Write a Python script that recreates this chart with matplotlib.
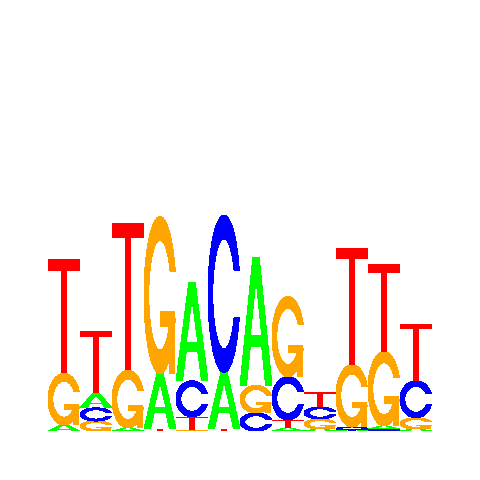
import matplotlib
matplotlib.use("Agg")
import numpy as np
import matplotlib.pyplot as plt
from matplotlib.patches import Polygon

# information content per letter (bits), positions 1..12
a_bits = [0.05, 0.12, 0.025, 0.46, 0.82, 0.47, 1.07, 0.025, 0.017, 0.008, 0.025, 0.017]
c_bits = [0.0, 0.11, 0.0, 0.0, 0.30, 1.31, 0.15, 0.36, 0.10, 0.025, 0.017, 0.31]
g_bits = [0.43, 0.083, 0.48, 1.31, 0.008, 0.0, 0.23, 0.67, 0.083, 0.52, 0.62, 0.092]
t_bits = [0.95, 0.52, 1.23, 0.017, 0.11, 0.017, 0.0, 0.067, 0.125, 0.975, 0.73, 0.475]

letters = ["A", "C", "G", "T"]
colors = {"A": "#00ff00", "C": "#0000ff", "G": "#ffa500", "T": "#ff0000"}

px_per_bit = 120.0
col_w = 32.0
x0 = 48.0
base = 49.0


def c_shape():
    # ring-shaped C outline in a unit box (same recipe as seqLogo)
    a1 = np.linspace(0.3 + np.pi / 2, np.pi, 100)
    a2 = np.linspace(np.pi, 1.5 * np.pi, 100)
    xl = np.concatenate([0.5 + 0.5 * np.sin(a1), 0.5 + 0.5 * np.sin(a2)])
    yl = np.concatenate([0.5 + 0.5 * np.cos(a1), 0.5 + 0.5 * np.cos(a2)])
    x = np.concatenate([xl, xl[::-1]])
    y = np.concatenate([yl, 1 - yl[::-1]])
    hmax = (0.5 + 0.5 * np.cos(a1)).max()
    xi1 = 0.5 + 0.35 * np.sin(a1)
    yi1 = 0.5 + 0.35 * np.cos(a1)
    keep = yi1 <= hmax
    xi1, yi1 = xi1[keep], yi1[keep]
    yi1[0] = hmax
    xi = np.concatenate([xi1, 0.5 + 0.35 * np.sin(a2)])
    yi = np.concatenate([yi1, 0.5 + 0.35 * np.cos(a2)])
    x1 = np.concatenate([xi, xi[::-1]])
    y1 = np.concatenate([yi, 1 - yi[::-1]])
    x = np.concatenate([x, x1[::-1]])
    y = np.concatenate([y, y1[::-1]])
    return x, y


def shapes(l):
    if l == "A":
        out = [([0, 4, 6, 10, 8, 6.8, 3.2, 2], [0, 10, 10, 0, 0, 3, 3, 0], None),
               ([3.6, 5, 6.4], [4, 7.5, 4], "white")]
        return [(np.array(x) / 10, np.array(y) / 10, c) for x, y, c in out]
    if l == "T":
        return [(np.array([0, 10, 10, 6, 6, 4, 4, 0]) / 10,
                 np.array([10, 10, 9, 9, 0, 0, 9, 9]) / 10, None)]
    x, y = c_shape()
    res = [(x, y, None)]
    if l == "G":
        r1 = (0.5 + 0.5 * np.sin(np.linspace(0.3 + np.pi / 2, np.pi, 100))).max()
        h1 = 0.4
        res.append((np.array([r1, 0.5, 0.5, r1 - 0.2, r1 - 0.2, r1]),
                    np.array([h1, h1, h1 - 0.1, h1 - 0.1, 0, 0]), None))
    return res


def draw_letter(ax, l, x, y, w, h):
    for sx, sy, fc in shapes(l):
        pts = np.column_stack([x + sx * w, y + sy * h])
        ax.add_patch(Polygon(pts, closed=True, facecolor=fc or colors[l],
                             edgecolor="none", lw=0, antialiased=False))


fig = plt.figure(figsize=(4.8, 4.8), dpi=100)
ax = fig.add_axes([0, 0, 1, 1])
ax.set_xlim(0, 480)
ax.set_ylim(0, 480)
ax.axis("off")

for i in range(len(a_bits)):
    col = {"A": a_bits[i], "C": c_bits[i], "G": g_bits[i], "T": t_bits[i]}
    y = base
    for l in sorted(letters, key=lambda k: col[k]):
        h = col[l] * px_per_bit
        if h <= 0:
            continue
        draw_letter(ax, l, x0 + i * col_w, y, col_w, h)
        y += h

fig.savefig("out.png", dpi=100, facecolor="white")
